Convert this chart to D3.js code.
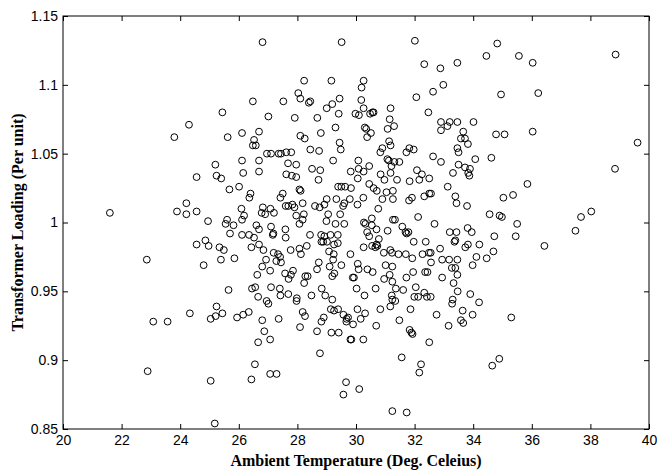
<!DOCTYPE html>
<html lang="en">
<head>
<meta charset="UTF-8">
<title>Transformer loading vs ambient temperature</title>
<script src="https://cdn.jsdelivr.net/npm/d3@7"></script>
<style>
  body { margin: 0; background: #fff; }
  .tick text { font-family: 'Liberation Sans', Arial, sans-serif; font-size: 14px; fill: #000; }
  .tick line { stroke: #000; }
  .lbl { font-family: 'Liberation Serif', 'Times New Roman', serif; font-weight: bold; font-size: 16px; fill: #000; }
</style>
</head>
<body>
<script>
// axis ticks
const xTicks = [20, 22, 24, 26, 28, 30, 32, 34, 36, 38, 40];
const yTicks = [0.85, 0.9, 0.95, 1, 1.05, 1.1, 1.15];

// ambient temperature (deg C)
const temperature = [
  26.48,25.44,24.30,23.80,25.62,26.11,26.69,26.52,26.48,26.58,
  26.81,29.51,32.01,32.33,32.88,32.98,32.63,32.06,32.47,32.90,33.20,
  32.90,33.12,28.23,29.16,30.26,30.19,28.03,28.10,28.39,28.44,27.52,
  29.44,29.19,29.00,29.41,28.68,27.91,27.01,30.18,30.26,29.98,30.10,
  30.48,30.56,30.60,31.18,31.15,31.30,31.08,30.30,30.35,30.51,30.38,
  29.30,28.80,28.10,28.25,29.44,29.48,28.44,28.74,27.62,27.79,26.96,
  27.10,27.36,27.44,31.13,31.18,30.90,30.83,31.82,31.97,31.72,32.63,
  33.46,34.82,34.45,35.56,36.03,38.86,34.95,36.22,33.46,34.01,
  33.66,33.58,33.72,33.82,33.46,33.50,34.78,35.07,36.03,39.61,
  21.60,22.86,26.11,26.69,25.20,25.24,25.40,26.15,26.69,24.56,
  26.01,25.68,26.40,26.36,24.21,23.89,24.21,24.56,26.09,26.18,
  26.11,24.95,25.60,25.55,25.82,26.60,25.70,26.11,26.35,26.52,
  26.69,24.86,24.56,24.97,25.34,25.49,26.43,26.69,25.39,25.85,
  24.80,26.63,25.65,26.45,26.56,
  23.08,23.57,24.33,25.24,25.04,25.21,25.44,25.94,26.15,26.34,
  26.66,26.66,26.55,26.43,22.89,25.04,25.18,
  34.20,33.64,33.98,33.58,33.66,35.30,34.89,34.65,
  38.84,35.85,35.03,35.36,38.03,37.68,37.49,36.43,35.50,35.45,
  34.56,34.90,34.98,34.72,34.69,34.46,34.11,33.98,34.21,33.81,
  33.95,33.82,33.73,33.43,33.39,33.36,33.46,33.39,33.46,33.33,
  33.47,33.90,33.39,33.43,33.79,34.07,34.62,33.50,33.72,33.89,
  33.83,33.87,
  27.07,27.29,29.66,29.57,30.11,31.24,31.73,28.77,31.56,32.22,
  32.16,32.50,33.16,32.75,31.83,31.89,31.93,31.48,31.86,30.83,
  30.69,30.25,29.81,29.84,29.16,29.41,28.67,28.09,27.36,26.80,
  26.87,27.07,28.18,28.26,28.90,28.82,29.14,29.25,29.39,29.57,
  29.68,29.73,29.67,29.90,30.05,30.31,30.16,30.29,29.19,28.95,
  28.48,27.98,27.97,27.42,27.69,26.95,27.01,31.17,31.24,31.34,
  31.22,31.99,32.12,32.42,32.55,32.33,33.30,33.28,
  29.22,30.08,31.07,31.12,31.31,31.48,32.90,
  27.68,27.96,28.50,28.78,28.72,27.62,27.81,27.96,29.82,30.06,
  30.09,30.26,30.45,30.84,30.97,31.18,31.21,31.40,31.83,32.08,
  32.16,32.25,32.50,33.31,
  29.39,29.50,29.63,29.83,28.07,28.11,27.50,27.42,30.45,30.60,
  30.71,31.04,31.26,30.25,30.90,31.26,31.81,31.91,32.33,32.50,
  32.56,33.13,29.33,29.60,29.00,29.79,28.92,
  26.82,27.08,26.78,26.90,27.20,27.60,27.69,27.83,27.90,28.18,
  28.60,28.76,29.56,29.46,30.05,30.76,31.26,31.33,32.12,32.68,
  27.96,28.22,28.18,28.07,29.05,28.99,29.30,29.60,30.54,30.54,
  30.27,30.32,
  27.10,27.16,27.18,27.59,27.60,28.43,28.81,28.92,29.13,29.38,
  29.01,28.88,28.82,29.38,29.25,30.38,30.70,30.45,30.78,31.08,
  31.58,31.69,31.73,31.79,31.97,32.38,33.20,30.70,30.73,
  26.84,27.19,27.34,27.41,27.28,27.44,26.93,26.80,27.77,28.07,
  28.32,28.12,29.08,29.24,29.22,29.81,30.26,30.55,30.66,30.95,
  31.17,31.23,31.45,31.70,31.92,32.27,32.49,32.55,32.56,32.87,
  32.94,33.18,
  27.07,27.58,27.85,27.78,27.70,28.27,28.35,28.23,28.67,28.73,
  29.10,29.26,29.19,29.50,30.06,30.09,29.93,29.89,30.39,30.57,
  31.01,31.24,31.15,31.24,30.96,31.72,31.95,32.36,32.44,32.94,
  33.27,27.10,27.40,28.83,30.02,30.67,31.36,31.61,32.04
];

// transformer loading (per unit), same order
const loading = [
  1.088,1.080,1.071,1.062,1.062,1.065,1.066,1.060,1.056,1.056,
  1.131,1.131,1.132,1.115,1.112,1.100,1.095,1.091,1.080,1.073,1.073,
  1.067,1.070,1.103,1.103,1.103,1.098,1.094,1.090,1.087,1.088,1.088,
  1.090,1.086,1.083,1.079,1.076,1.076,1.077,1.089,1.083,1.079,1.078,
  1.079,1.080,1.080,1.083,1.075,1.070,1.068,1.069,1.068,1.065,1.062,
  1.069,1.065,1.063,1.061,1.058,1.053,1.053,1.052,1.051,1.051,1.050,
  1.050,1.050,1.050,1.059,1.056,1.054,1.051,1.054,1.053,1.051,1.048,
  1.116,1.130,1.121,1.121,1.116,1.122,1.093,1.094,1.073,1.073,
  1.066,1.061,1.061,1.057,1.054,1.051,1.064,1.064,1.066,1.058,
  1.007,0.973,1.045,1.045,1.042,1.034,1.032,1.036,1.037,1.033,
  1.026,1.024,1.021,1.018,1.014,1.008,1.006,1.008,1.010,1.005,
  1.002,1.001,1.002,0.999,0.998,0.998,0.992,0.991,0.991,0.989,
  0.995,0.987,0.984,0.983,0.982,0.980,0.982,0.984,0.973,0.974,
  0.969,0.962,0.951,0.952,0.953,
  0.928,0.928,0.934,0.939,0.930,0.932,0.934,0.931,0.933,0.935,
  0.946,0.913,0.897,0.886,0.892,0.885,0.854,
  0.942,0.936,0.933,0.929,0.927,0.931,0.901,0.896,
  1.039,1.028,1.018,1.020,1.008,1.004,0.994,0.983,0.999,0.990,
  1.006,1.005,1.004,0.990,0.979,0.974,0.975,0.969,0.984,0.996,
  0.993,0.984,0.982,0.993,0.987,0.986,0.973,0.967,0.962,0.956,
  0.950,0.948,1.019,1.014,1.012,1.046,1.047,1.042,1.040,1.039,
  1.036,1.034,
  0.890,0.890,0.884,0.875,0.879,0.863,0.862,0.905,0.902,0.897,
  0.891,0.913,0.925,0.933,0.922,0.920,0.919,0.929,0.937,0.937,
  0.925,0.915,0.915,0.915,0.920,0.920,0.921,0.924,0.930,0.929,
  0.921,0.915,0.935,0.932,0.931,0.928,0.937,0.936,0.937,0.933,
  0.930,0.931,0.928,0.926,0.937,0.934,0.930,0.947,0.944,0.947,
  0.947,0.945,0.943,0.947,0.948,0.943,0.941,0.939,0.944,0.943,
  0.947,0.946,0.946,0.946,0.946,0.949,0.944,0.941,
  1.045,1.045,1.046,1.045,1.044,1.044,1.044,
  1.043,1.042,1.039,1.038,1.031,1.035,1.034,1.033,1.037,1.032,
  1.039,1.037,1.041,1.035,1.031,1.036,1.041,1.031,1.030,1.038,
  1.031,1.035,1.032,1.036,
  1.026,1.026,1.026,1.025,1.024,1.023,1.021,1.018,1.028,1.025,
  1.023,1.022,1.023,1.018,1.017,1.017,1.016,1.018,1.019,1.021,
  1.021,1.026,1.017,1.014,1.017,1.017,1.013,
  1.011,1.010,1.007,1.006,1.007,1.012,1.012,1.013,1.011,1.014,
  1.012,1.011,1.012,1.006,1.013,1.010,1.002,1.002,1.004,0.999,
  1.005,1.006,1.002,0.999,1.006,1.001,0.999,0.999,1.003,0.998,
  1.000,0.999,
  0.997,0.991,0.992,0.995,0.989,0.991,0.991,0.990,0.991,0.991,
  0.986,0.986,0.986,0.985,0.984,0.993,0.995,0.990,0.988,0.994,
  0.997,0.993,0.992,0.993,0.986,0.986,0.993,0.984,0.983,
  0.980,0.978,0.977,0.975,0.972,0.971,0.973,0.968,0.980,0.981,
  0.983,0.977,0.979,0.977,0.973,0.977,0.982,0.983,0.982,0.978,
  0.980,0.978,0.977,0.977,0.974,0.977,0.978,0.978,0.971,0.981,
  0.973,0.973,
  0.965,0.963,0.965,0.962,0.959,0.961,0.961,0.956,0.966,0.971,
  0.968,0.963,0.961,0.969,0.970,0.966,0.960,0.960,0.966,0.964,
  0.969,0.968,0.962,0.957,0.959,0.960,0.964,0.964,0.964,0.960,
  0.967,0.953,0.952,0.952,0.952,0.952,0.952,0.951,0.953
];

const W = 657, H = 472;
const box = { l: 63, r: 649, t: 16, b: 429 };

const svg = d3.select("body").append("svg").attr("width", W).attr("height", H);

const x = d3.scaleLinear().domain([20, 40]).range([box.l, box.r]);
const y = d3.scaleLinear().domain([0.85, 1.15]).range([box.b, box.t]);

// ticks point inward on all four sides, like a matlab box
svg.append("g").attr("transform", `translate(0,${box.b})`)
    .call(d3.axisBottom(x).tickValues(xTicks).tickSizeInner(-5).tickSizeOuter(0).tickPadding(6).tickFormat(d => d))
    .call(g => g.select(".domain").remove());
svg.append("g").attr("transform", `translate(0,${box.t})`)
    .call(d3.axisTop(x).tickValues(xTicks).tickSizeInner(-5).tickSizeOuter(0).tickFormat(""))
    .call(g => g.select(".domain").remove());
svg.append("g").attr("transform", `translate(${box.l},0)`)
    .call(d3.axisLeft(y).tickValues(yTicks).tickSizeInner(-5).tickSizeOuter(0).tickPadding(5).tickFormat(d => String(d)))
    .call(g => g.select(".domain").remove());
svg.append("g").attr("transform", `translate(${box.r},0)`)
    .call(d3.axisRight(y).tickValues(yTicks).tickSizeInner(-5).tickSizeOuter(0).tickFormat(""))
    .call(g => g.select(".domain").remove());

svg.append("rect")
    .attr("x", box.l).attr("y", box.t)
    .attr("width", box.r - box.l).attr("height", box.b - box.t)
    .attr("fill", "none").attr("stroke", "#000");

svg.append("g").selectAll("circle")
    .data(d3.zip(temperature, loading))
    .join("circle")
    .attr("cx", d => x(d[0]))
    .attr("cy", d => y(d[1]))
    .attr("r", 3.4)
    .attr("fill", "none")
    .attr("stroke", "#000")
    .attr("stroke-width", 1);

svg.append("text").attr("class", "lbl")
    .attr("x", (box.l + box.r) / 2).attr("y", 466)
    .attr("text-anchor", "middle")
    .text("Ambient Temperature (Deg. Celeius)");

svg.append("text").attr("class", "lbl")
    .attr("transform", `translate(23,${(box.t + box.b) / 2}) rotate(-90)`)
    .attr("text-anchor", "middle")
    .text("Transformer Loading (Per unit)");
</script>
</body>
</html>
